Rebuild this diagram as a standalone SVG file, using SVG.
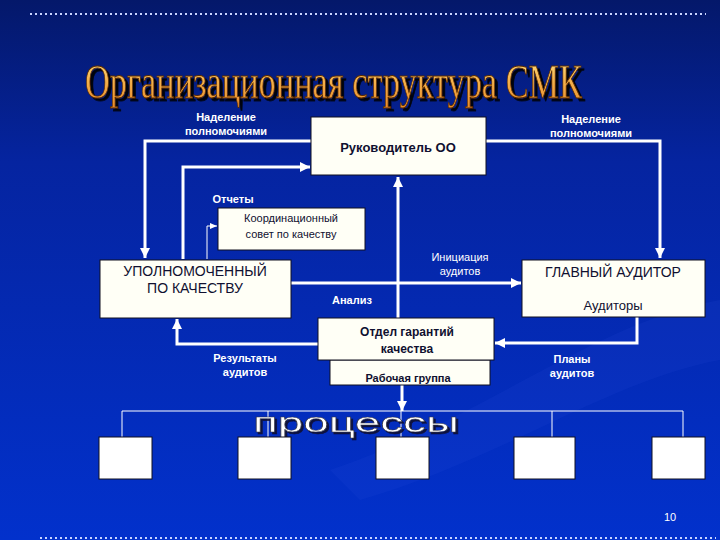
<svg xmlns="http://www.w3.org/2000/svg" width="720" height="540" viewBox="0 0 720 540">
  <defs>
    <linearGradient id="bg" x1="0" y1="0" x2="0" y2="1">
      <stop offset="0" stop-color="#04186a"/>
      <stop offset="0.3" stop-color="#0524a0"/>
      <stop offset="1" stop-color="#0231cc"/>
    </linearGradient>
    <linearGradient id="gold" x1="0" y1="0" x2="0" y2="1">
      <stop offset="0" stop-color="#ffe48a"/>
      <stop offset="0.5" stop-color="#f4b04a"/>
      <stop offset="1" stop-color="#e88a2a"/>
    </linearGradient>
    <filter id="shadow3" x="-5%" y="-20%" width="110%" height="150%">
      <feDropShadow dx="3" dy="2" stdDeviation="0.5" flood-color="#000000" flood-opacity="0.9"/>
    </filter>
    <filter id="shadow2" x="-5%" y="-20%" width="110%" height="150%">
      <feDropShadow dx="2" dy="2" stdDeviation="0.5" flood-color="#0a0a30" flood-opacity="0.9"/>
    </filter>
    <marker id="arr" markerUnits="userSpaceOnUse" markerWidth="12" markerHeight="12" refX="10" refY="6" orient="auto">
      <path d="M0,1 L10,6 L0,11 Z" fill="#ffffff"/>
    </marker>
    <marker id="arrs" markerUnits="userSpaceOnUse" markerWidth="8" markerHeight="8" refX="7" refY="4" orient="auto">
      <path d="M0,1 L7,4 L0,7 Z" fill="#ffffff"/>
    </marker>
  </defs>
  <style>
    .box { fill: #fffff6; stroke: #101020; stroke-width: 1; }
    .pbox { fill: #ffffff; stroke: #101020; stroke-width: 1; }
    .con { fill: none; stroke: #ffffff; stroke-width: 3; }
    .thin { fill: none; stroke: #ffffff; stroke-width: 1; }
    .lbl { font-family: "Liberation Sans", Arial, sans-serif; font-size: 11px; font-weight: bold; fill: #ffffff; text-anchor: middle; }
    .lblr { font-family: "Liberation Sans", Arial, sans-serif; font-size: 11px; fill: #ffffff; text-anchor: middle; }
    .dark { font-family: "Liberation Sans", Arial, sans-serif; fill: #101030; text-anchor: middle; }
    .dots { stroke: #c8d4ff; stroke-width: 2; stroke-dasharray: 2 3; }
  </style>

  <rect x="0" y="0" width="720" height="540" fill="url(#bg)"/>
  <path d="M330,470 C480,420 600,320 720,300 L720,360 C610,380 500,460 360,500 Z" fill="#3050e0" opacity="0.12"/>

  <line class="dots" x1="30" y1="14" x2="706" y2="14"/>
  <line class="dots" x1="40" y1="538" x2="716" y2="538"/>

  <g id="title" transform="translate(85,98) scale(1,1.4)">
    <text x="0" y="0" font-family="Liberation Serif, 'Times New Roman', serif" font-size="34" textLength="497" lengthAdjust="spacingAndGlyphs" fill="url(#gold)" stroke="#5a2a00" stroke-width="0.6" filter="url(#shadow3)">Организационная структура СМК</text>
  </g>

  <g id="connectors">
    <path class="con" d="M311,141 H145 V258" marker-end="url(#arr)"/>
    <path class="con" d="M183,259 V167 H310" marker-end="url(#arr)"/>
    <path class="thin" stroke-width="2" d="M207,259 V226 H217" marker-end="url(#arrs)"/>
    <path class="con" d="M291,283 H521" marker-end="url(#arr)"/>
    <path class="con" d="M398,318 V177" marker-end="url(#arr)"/>
    <path class="con" d="M486,141 H660 V258" marker-end="url(#arr)"/>
    <path class="con" d="M637,317 V343 H495" marker-end="url(#arr)"/>
    <path class="con" d="M318,344 H177 V319" marker-end="url(#arr)"/>
    <path class="con" d="M402,385 V411" marker-end="url(#arr)"/>
    <path class="thin" d="M122,411 H683 M122,411 V437 M268,411 V437 M401,411 V437 M552,411 V437 M683,411 V437"/>
  </g>

  <g id="labels">
    <text class="lbl" x="226" y="121">Наделение</text>
    <text class="lbl" x="226" y="135">полномочиями</text>
    <text class="lbl" x="591" y="123">Наделение</text>
    <text class="lbl" x="591" y="137">полномочиями</text>
    <text class="lbl" x="233" y="203">Отчеты</text>
    <text class="lblr" x="460" y="261">Инициация</text>
    <text class="lblr" x="460" y="275">аудитов</text>
    <text class="lbl" x="352" y="304">Анализ</text>
    <text class="lbl" x="245" y="362">Результаты</text>
    <text class="lbl" x="245" y="376">аудитов</text>
    <text class="lbl" x="572" y="363">Планы</text>
    <text class="lbl" x="572" y="377">аудитов</text>
  </g>

  <g id="rukovoditel">
    <rect class="box" x="311" y="117" width="175" height="58"/>
    <text class="dark" x="398" y="152" font-size="13" font-weight="bold">Руководитель ОО</text>
  </g>

  <g id="sovet">
    <rect class="box" x="218" y="208" width="147" height="42"/>
    <text class="dark" x="291" y="222" font-size="11">Координационный</text>
    <text class="dark" x="291" y="238" font-size="11">совет по качеству</text>
  </g>

  <g id="upolnomochenny">
    <rect class="box" x="100" y="260" width="191" height="58"/>
    <text class="dark" x="195" y="276" font-size="14">УПОЛНОМОЧЕННЫЙ</text>
    <text class="dark" x="195" y="293" font-size="14">ПО КАЧЕСТВУ</text>
  </g>

  <g id="glavny-auditor">
    <rect class="box" x="522" y="260" width="183" height="57"/>
    <text class="dark" x="613" y="277" font-size="14">ГЛАВНЫЙ АУДИТОР</text>
    <text class="dark" x="613" y="310" font-size="13">Аудиторы</text>
  </g>

  <g id="rabochaya-gruppa">
    <rect class="box" x="330" y="360" width="160" height="25"/>
    <text class="dark" x="408" y="382" font-size="11" font-weight="bold">Рабочая группа</text>
  </g>

  <g id="otdel">
    <rect class="box" x="318" y="318" width="176" height="42"/>
    <text class="dark" x="407" y="336" font-size="12" font-weight="bold">Отдел гарантий</text>
    <text class="dark" x="407" y="353" font-size="12" font-weight="bold">качества</text>
  </g>

  <g id="processy-label">
    <text x="253" y="432" font-family="Liberation Sans, Arial, sans-serif" font-size="28" textLength="206" lengthAdjust="spacingAndGlyphs" fill="#ffffff" stroke="#303040" stroke-width="0.5" filter="url(#shadow2)">процессы</text>
  </g>

  <g id="process-1"><rect class="pbox" x="99" y="437" width="53" height="42"/></g>
  <g id="process-2"><rect class="pbox" x="238" y="437" width="53" height="42"/></g>
  <g id="process-3"><rect class="pbox" x="376" y="437" width="53" height="42"/></g>
  <g id="process-4"><rect class="pbox" x="514" y="437" width="61" height="42"/></g>
  <g id="process-5"><rect class="pbox" x="652" y="437" width="53" height="42"/></g>

  <text x="670" y="521" font-family="Liberation Sans, Arial, sans-serif" font-size="11" fill="#ffffff" text-anchor="middle">10</text>
</svg>
